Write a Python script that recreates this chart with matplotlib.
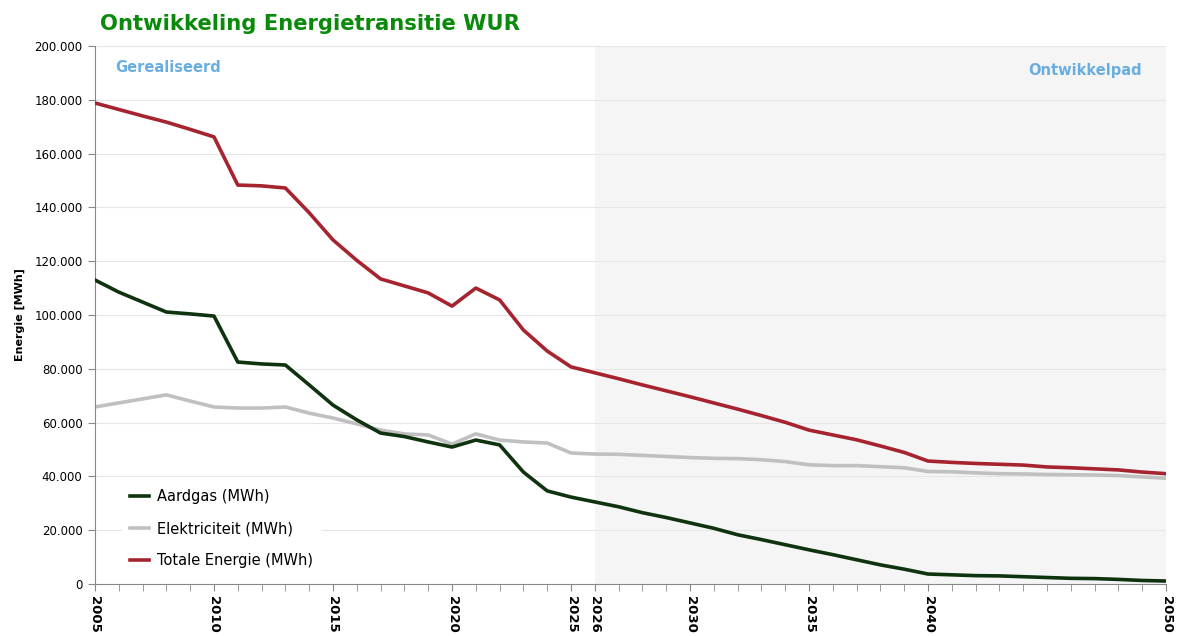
import matplotlib
matplotlib.use('Agg')
import matplotlib.pyplot as plt
from matplotlib.ticker import FuncFormatter, MultipleLocator

plt.rcParams['font.family'] = ['DejaVu Sans']

# ── data ──────────────────────────────────────────
jaren = list(range(2005, 2051))

aardgas = [113000, 108500, 104800, 101100, 100400, 99600,
           82500, 81800, 81400, 74000, 66500, 61000, 56100, 54800, 52800,
           50900, 53500, 51700, 41600, 34600, 32300,
           30500, 28700, 26500, 24700, 22700, 20700, 18300, 16500, 14600,
           12700, 10900, 9000, 7100, 5500, 3700,
           3400, 3100, 3000, 2700, 2400, 2100, 2000, 1700, 1300, 1100]

elektriciteit = [65800, 67300, 68800, 70300, 68000, 65800,
                 65400, 65400, 65800, 63500, 61700, 59500, 57200, 55800, 55400,
                 52000, 55800, 53500, 52800, 52400, 48700,
                 48300, 48200, 47800, 47400, 47000, 46700, 46600, 46200, 45500,
                 44300, 44000, 44000, 43600, 43200, 41800,
                 41700, 41300, 41000, 40900, 40700, 40600, 40500, 40300, 39800, 39300]

totaal = [178800, 176400, 174000, 171700, 169000, 166200,
          148300, 148000, 147200, 138000, 127900, 120300, 113400, 110800, 108200,
          103300, 110000, 105600, 94400, 86600, 80700,
          78500, 76300, 74000, 71800, 69600, 67300, 65000, 62600, 60100,
          57200, 55400, 53600, 51300, 48900, 45700,
          45200, 44800, 44500, 44200, 43500, 43200, 42800, 42400, 41600, 41000]

label_jaren = [2005, 2010, 2015, 2020, 2025, 2026, 2030, 2035, 2040, 2050]
start_pad = 2026

fig = plt.figure(figsize=(11.77, 6.36), dpi=100)
ax = fig.add_axes([0.0807, 0.0818, 0.9100, 0.8459])

# ontwikkelpad achtergrond
ax.axvspan(start_pad, 2050, color='#f5f5f5', zorder=0, lw=0)

ax.plot(jaren, aardgas, color='#10330f', lw=2.6, label='Aardgas (MWh)', zorder=3)
ax.plot(jaren, elektriciteit, color='#c0c0c0', lw=2.6, label='Elektriciteit (MWh)', zorder=2)
ax.plot(jaren, totaal, color='#a5242f', lw=2.6, label='Totale Energie (MWh)', zorder=3)

ax.set_xlim(2005, 2050)
ax.set_ylim(0, 200000)

ax.yaxis.set_major_locator(MultipleLocator(20000))
ax.yaxis.set_major_formatter(FuncFormatter(lambda v, p: f'{int(v):,}'.replace(',', '.')))
ax.grid(True, axis='y', color='#e6e6e6', lw=0.8, zorder=1)
ax.set_axisbelow(True)

ax.set_xticks(label_jaren)
ax.set_xticks(jaren, minor=True)
ax.set_xticklabels([str(j) for j in label_jaren], rotation=270, fontweight='bold',
                   fontsize=9.5, va='top', ha='center')
ax.tick_params(axis='x', which='both', length=5, color='#888888', pad=4)
ax.tick_params(axis='y', length=5, color='#888888', labelsize=8.5, pad=4)

for s in ['top', 'right']:
    ax.spines[s].set_visible(False)
for s in ['left', 'bottom']:
    ax.spines[s].set_color('#888888')

ax.set_ylabel('Energie [MWh]', fontsize=8, fontweight='bold', labelpad=7)

ax.text(0.019, 0.96, 'Gerealiseerd', transform=ax.transAxes, color='#6aaee0',
        fontsize=10.5, fontweight='bold', va='center', ha='left')
ax.text(0.9775, 0.955, 'Ontwikkelpad', transform=ax.transAxes, color='#6aaee0',
        fontsize=10.5, fontweight='bold', va='center', ha='right')

fig.text(0.085, 0.963, 'Ontwikkeling Energietransitie WUR', color='#0a8a0a',
         fontsize=15.2, fontweight='bold', va='center', ha='left')

leg = ax.legend(loc='lower left', bbox_to_anchor=(0.018, 0.0), frameon=True,
                fontsize=10.5, handlelength=1.3, handletextpad=0.5,
                labelspacing=1.15, borderpad=0.6)
leg.get_frame().set_facecolor('white')
leg.get_frame().set_edgecolor('none')
leg.get_frame().set_alpha(1)

fig.savefig('out.png', dpi=100)
